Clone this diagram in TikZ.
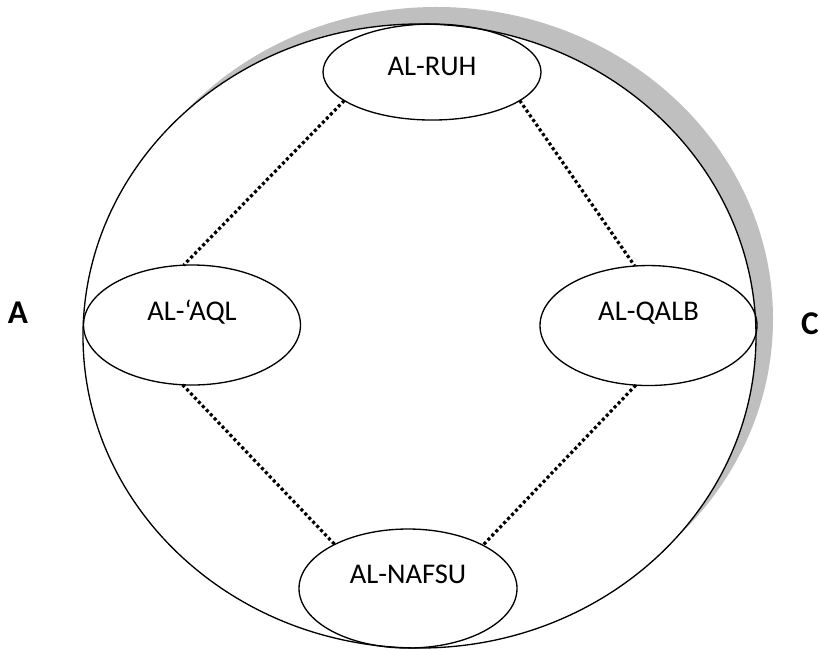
\documentclass[tikz,border=0pt]{standalone}
\usepackage{fontspec}
\setmainfont{Carlito}
\usetikzlibrary{shapes.geometric}
\tikzset{
  oval/.style={draw, ellipse, line width=1pt, inner sep=0pt, outer sep=0pt,
    font=\fontsize{21.5}{26}\selectfont, text height=13.85pt, text depth=21pt},
  link/.style={line width=2.4pt, dash pattern=on 2.3pt off 2pt},
  side/.style={font=\fontsize{25}{30}\selectfont\bfseries}
}
\begin{document}
\begin{tikzpicture}
  \useasboundingbox (0,0) rectangle (21.669,17.172);
  % outer circle and its shadow
  \fill[black!25] (11.549,8.732) ellipse [x radius=8.903, y radius=8.255];
  \filldraw[fill=white, line width=1pt] (11.099,8.282) ellipse [x radius=8.903, y radius=8.255];
  \node[oval, minimum width=5.768cm, minimum height=2.540cm, text depth=9pt] (ruh) at (11.430,15.266) {AL-RUH};
  \node[oval, minimum width=5.741cm, minimum height=3.175cm] (aql) at (5.080,8.573) {AL-‘AQL};
  \node[oval, minimum width=5.741cm, minimum height=3.175cm] (qalb) at (17.158,8.559) {AL-QALB};
  \node[oval, minimum width=5.768cm, minimum height=3.149cm] (nafsu) at (10.795,1.601) {AL-NAFSU};
  \draw[link] (ruh.198) -- (aql.98);
  \draw[link] (ruh.342) -- (qalb.103);
  \draw[link] (aql.261) -- (nafsu.149);
  \draw[link] (qalb.258) -- (nafsu.30);
  \node[side] (a) at (0.476,8.903) {A};
  \node[side] (c) at (21.431,8.599) {C};
\end{tikzpicture}
\end{document}
